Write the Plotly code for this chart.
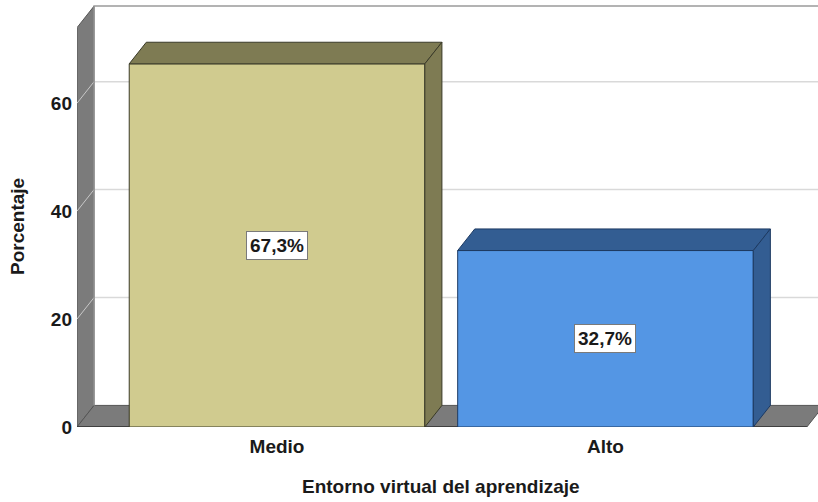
import plotly.graph_objects as go

# data
categories = ["Medio", "Alto"]
percentages = [67.3, 32.7]
value_labels = ["67,3%", "32,7%"]
y_ticks = [0, 20, 40, 60]

# style
front_colors = ["#D0CB8F", "#5496E4"]
shade_colors = ["#7E7B53", "#335D92"]
edge_colors = ["#3a3a28", "#1d3a62"]
WALL_GRAY = "#7B7B7B"
FONT = dict(family="Liberation Sans, Arial, sans-serif", size=19, color="#1a1a1a", weight="bold")

BAR_WIDTH = 0.9
DEPTH_X = 0.052   # fake 3D depth, in category units
DEPTH_Y = 4.0     # fake 3D depth, in percent units
X_RANGE = [-0.609, 1.647]
Y_RANGE = [0, 78.2]
WALL_TOP = 74.0
FLOOR_END = 1.613

x_pos = list(range(len(categories)))

fig = go.Figure()

# front faces
fig.add_trace(go.Bar(
    x=x_pos, y=percentages, width=BAR_WIDTH,
    marker=dict(color=front_colors, line=dict(color=edge_colors, width=1)),
    hoverinfo="skip", showlegend=False,
))

# top and side faces
for xc, v, shade, edge in zip(x_pos, percentages, shade_colors, edge_colors):
    left, right = xc - BAR_WIDTH / 2, xc + BAR_WIDTH / 2
    top_x = [left, left + DEPTH_X, right + DEPTH_X, right, left]
    top_y = [v, v + DEPTH_Y, v + DEPTH_Y, v, v]
    side_x = [right, right + DEPTH_X, right + DEPTH_X, right, right]
    side_y = [0, DEPTH_Y, v + DEPTH_Y, v, 0]
    for px, py in ((top_x, top_y), (side_x, side_y)):
        fig.add_trace(go.Scatter(
            x=px, y=py, mode="lines", fill="toself", fillcolor=shade,
            line=dict(color=edge, width=1), hoverinfo="skip", showlegend=False,
        ))

# walls, floor and grid as background shapes
x0 = X_RANGE[0]
shapes = []
for v in y_ticks[1:]:
    shapes.append(dict(type="line", layer="below", x0=x0 + DEPTH_X, x1=X_RANGE[1],
                       y0=v + DEPTH_Y, y1=v + DEPTH_Y, line=dict(color="#D9D9D9", width=1.5)))
shapes.append(dict(type="path", layer="below",
                   path=f"M {x0},0 L {x0},{WALL_TOP} L {x0 + DEPTH_X},{WALL_TOP + DEPTH_Y} "
                        f"L {x0 + DEPTH_X},{DEPTH_Y} Z",
                   fillcolor=WALL_GRAY, line=dict(color="#555555", width=1)))
shapes.append(dict(type="path", layer="below",
                   path=f"M {x0},0 L {x0 + DEPTH_X},{DEPTH_Y} L {FLOOR_END + DEPTH_X},{DEPTH_Y} "
                        f"L {FLOOR_END},0 Z",
                   fillcolor=WALL_GRAY, line=dict(color="#555555", width=1)))
for v in y_ticks[1:]:
    shapes.append(dict(type="line", layer="below", x0=x0, x1=x0 + DEPTH_X,
                       y0=v, y1=v + DEPTH_Y, line=dict(color="#C8C8C8", width=1)))
shapes.append(dict(type="path", layer="below",
                   path=f"M {x0 + DEPTH_X},{DEPTH_Y} L {x0 + DEPTH_X},{WALL_TOP + DEPTH_Y} "
                        f"L {X_RANGE[1]},{WALL_TOP + DEPTH_Y}",
                   line=dict(color="#9A9A9A", width=1.5)))
shapes.append(dict(type="line", layer="below", x0=x0, x1=FLOOR_END, y0=0, y1=0,
                   line=dict(color="#333333", width=1.5)))

annotations = [
    dict(x=xc, y=v / 2, text=lab, showarrow=False, font=FONT,
         bgcolor="white", bordercolor="#7a7a7a", borderwidth=1, borderpad=3)
    for xc, v, lab in zip(x_pos, percentages, value_labels)
]
annotations.append(dict(text="Entorno virtual del aprendizaje", xref="paper", yref="paper",
                        x=0.491, y=-0.142, showarrow=False, font=FONT,
                        xanchor="center", yanchor="middle"))
annotations.append(dict(text="Porcentaje", xref="paper", yref="paper", textangle=-90,
                        x=-0.0796, y=0.474, showarrow=False, font=FONT,
                        xanchor="center", yanchor="middle"))

fig.update_layout(
    width=818, height=502,
    margin=dict(l=77, r=0, t=5, b=75),
    paper_bgcolor="white", plot_bgcolor="white",
    shapes=shapes, annotations=annotations,
    xaxis=dict(range=X_RANGE, tickvals=x_pos, ticktext=categories, showgrid=False,
               zeroline=False, showline=False, ticks="", tickfont=FONT, ticklabelstandoff=6),
    yaxis=dict(range=Y_RANGE, tickvals=y_ticks, showgrid=False, zeroline=False,
               showline=False, ticks="", tickfont=FONT, ticklabelstandoff=4),
)

# the page body has a default 8px margin; drop it so the figure sits at the corner
fig.write_html("out.html", config={"displayModeBar": False},
               post_script="document.body.style.margin='0';")
